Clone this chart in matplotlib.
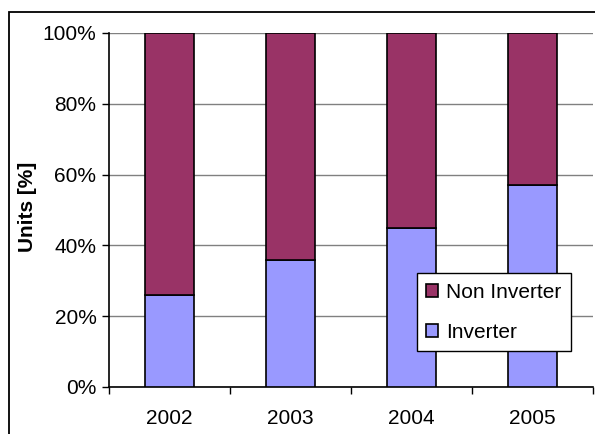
import numpy as np
import matplotlib.pyplot as plt
from matplotlib.patches import Rectangle
from matplotlib.ticker import FixedLocator, PercentFormatter

years = ["2002", "2003", "2004", "2005"]
inverter = [26, 36, 45, 57]
non_inverter = [100 - v for v in inverter]

plt.rcParams["font.family"] = ["Liberation Sans", "DejaVu Sans"]

fig = plt.figure(figsize=(5.95, 4.34), dpi=100)
fig.patches.append(Rectangle((9 / 595, -0.1), 1.2, 1 - 12 / 434 + 0.1,
                             transform=fig.transFigure, fill=False,
                             edgecolor="black", linewidth=1.3))

ax = fig.add_axes([109 / 595, 47 / 434, 484 / 595, 354 / 434])

x = np.arange(len(years))
ax.bar(x, inverter, width=0.41, color="#9999FF", edgecolor="black",
       linewidth=1.2, label="Inverter", zorder=3)
ax.bar(x, non_inverter, bottom=inverter, width=0.41, color="#993366",
       edgecolor="black", linewidth=1.2, label="Non Inverter", zorder=3)

ax.set_xlim(-0.5, 3.5)
ax.set_ylim(0, 100)
ax.set_yticks(range(0, 101, 20))
ax.yaxis.set_major_formatter(PercentFormatter(decimals=0))
ax.grid(axis="y", color="#808080", linewidth=1, zorder=0)

ax.set_xticks(x)
ax.set_xticklabels(years)
ax.xaxis.set_minor_locator(FixedLocator(np.arange(-0.5, 4, 1)))
ax.tick_params(axis="x", which="major", length=0, pad=16, labelsize=15)
ax.tick_params(axis="x", which="minor", length=5, width=1, direction="out")
ax.tick_params(axis="y", length=5, width=1, direction="out", pad=4,
               labelsize=15)

for side in ["top", "right"]:
    ax.spines[side].set_visible(False)
ax.spines["left"].set_linewidth(1.2)
ax.spines["bottom"].set_linewidth(1.2)

ax.set_ylabel("Units [%]", fontsize=15, fontweight="bold")
ax.yaxis.set_label_coords(-72 / 484, 0.51)

handles, labels = ax.get_legend_handles_labels()
leg = ax.legend(handles[::-1], labels[::-1], loc="lower left",
                bbox_to_anchor=(308 / 484, 36 / 354), borderaxespad=0,
                fontsize=15, frameon=True, fancybox=False, edgecolor="black",
                framealpha=1, handlelength=0.55, handleheight=0.55,
                handletextpad=0.4, borderpad=0.45, labelspacing=1.0)
leg.get_frame().set_linewidth(1)
leg.set_zorder(5)

fig.savefig("out.png", dpi=100)
